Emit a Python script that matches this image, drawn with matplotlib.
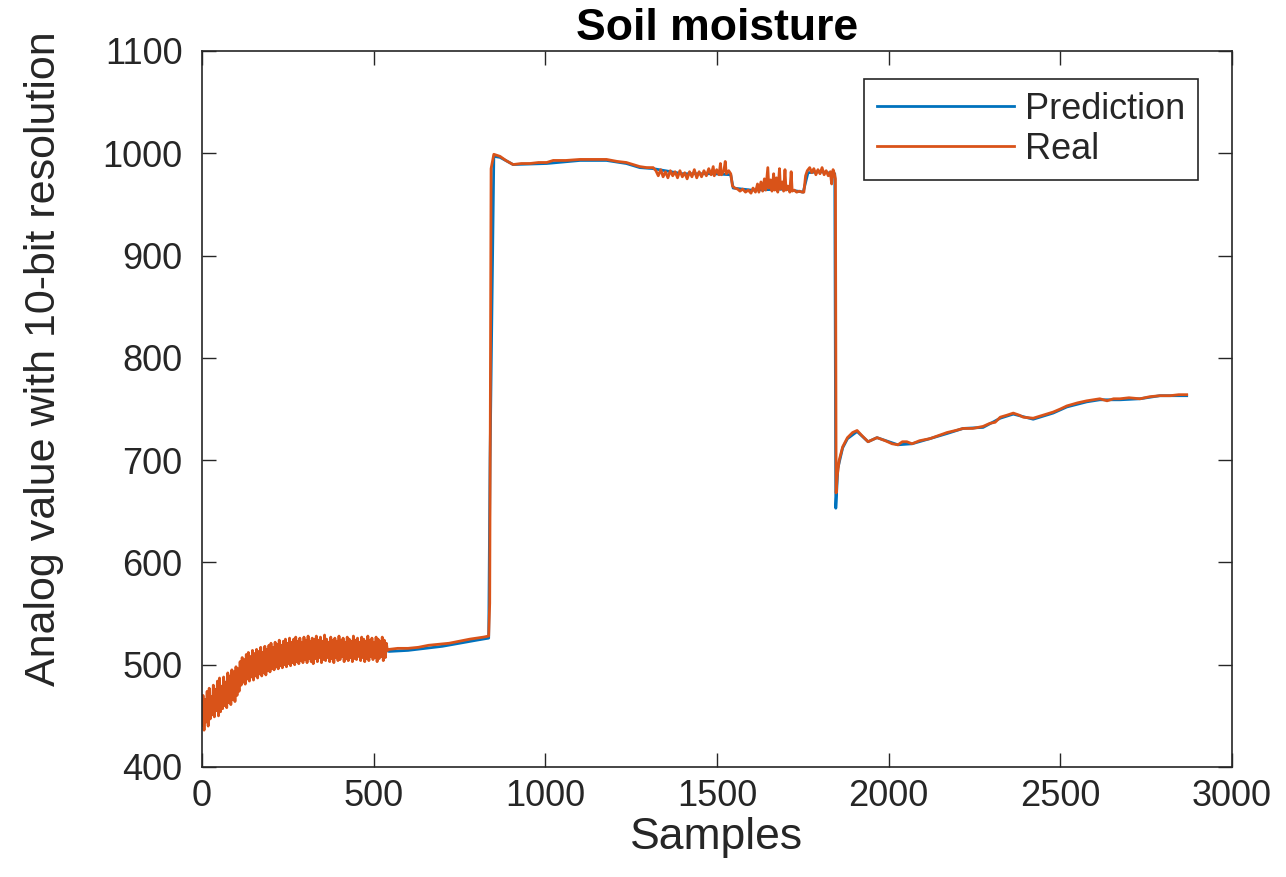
import numpy as np
import matplotlib
matplotlib.use('Agg')
import matplotlib.pyplot as plt

colors = {'prediction': '#0072BD', 'real': '#D95319', 'axis': '#262626'}

# ---- data (sample index, analog value) ----
# noisy start, one reading every 3 samples
band_x = np.arange(0, 540, 3)
band_y = [441, 470, 436, 466, 444, 474, 440, 477, 447, 469,
          451, 480, 449, 476, 455, 484, 450, 487, 454, 479,
          457, 488, 460, 483, 458, 492, 463, 489, 461, 495,
          466, 493, 464, 498, 470, 496, 474, 503, 480, 507,
          483, 505, 481, 510, 486, 512, 484, 508, 488, 514,
          485, 511, 489, 515, 487, 513, 491, 517, 489, 512,
          492, 518, 490, 515, 494, 519, 493, 521, 496, 517,
          495, 522, 498, 520, 496, 524, 499, 519, 497, 523,
          500, 525, 498, 521, 501, 526, 499, 522, 502, 525,
          500, 527, 503, 523, 501, 526, 504, 522, 502, 527,
          505, 524, 502, 528, 506, 523, 503, 526, 501, 525,
          506, 528, 503, 524, 507, 527, 502, 523, 505, 529,
          504, 525, 507, 522, 503, 527, 506, 524, 502, 526,
          507, 523, 504, 528, 505, 524, 508, 526, 503, 522,
          506, 527, 504, 525, 507, 523, 503, 528, 506, 524,
          505, 526, 508, 522, 504, 527, 507, 525, 503, 523,
          506, 528, 504, 524, 508, 526, 505, 522, 507, 527,
          503, 525, 506, 523, 508, 527, 504, 524, 507, 521]

rest_x = [540, 545, 570, 600, 630, 660, 690, 720, 750, 780, 800, 820, 835,
          838, 842, 850, 868, 885, 906, 930, 955, 980, 1004, 1023, 1060, 1101,
          1140, 1178, 1210, 1236, 1255, 1275, 1295, 1314,
          1322, 1329, 1336, 1343, 1350, 1357, 1364, 1371, 1378, 1385, 1392, 1399,
          1406, 1413, 1420, 1427, 1434, 1441, 1448, 1455, 1462, 1469, 1476, 1483,
          1489, 1492, 1499, 1506, 1510, 1513, 1520, 1524, 1527, 1534, 1540, 1545,
          1552, 1560, 1567, 1575, 1583, 1591, 1599, 1605, 1612, 1618, 1622, 1628,
          1633, 1638, 1642, 1648, 1651, 1656, 1660, 1665, 1668, 1673, 1677, 1682,
          1685, 1690, 1694, 1698, 1701, 1706, 1712, 1716, 1719, 1725, 1732, 1740,
          1748, 1753, 1758, 1763, 1770, 1776, 1782, 1788, 1794, 1800, 1806, 1812,
          1818, 1824, 1830, 1834, 1838, 1842, 1845,
          1847, 1850, 1856, 1866, 1880, 1895, 1908, 1922, 1940, 1966, 1990, 2010,
          2027, 2040, 2053, 2068, 2090, 2120, 2145, 2170, 2195, 2217, 2245, 2275,
          2295, 2310, 2325, 2345, 2363, 2380, 2392, 2421, 2450, 2479, 2500, 2519,
          2550, 2577, 2615, 2636, 2655, 2674, 2700, 2732, 2760, 2790, 2820, 2845,
          2868]
rest_y = [514, 515, 516, 516, 517, 519, 520, 521, 523, 525, 526, 527, 528,
          560, 985, 999, 997, 993, 989, 990, 990, 991, 991, 993, 993, 994,
          994, 994, 992, 991, 989, 987, 986, 986,
          983, 978, 984, 977, 982, 976, 983, 978, 982, 976, 983, 977,
          981, 975, 982, 977, 984, 976, 982, 977, 983, 978, 985, 979,
          987, 978, 984, 979, 990, 979, 983, 992, 980, 983, 980, 968,
          966, 965, 963, 965, 962, 964, 961, 966, 962, 970, 962, 972,
          963, 975, 964, 986, 966, 974, 963, 980, 964, 976, 962, 985,
          965, 972, 963, 984, 964, 968, 962, 982, 963, 964, 962, 963,
          962, 962, 978, 983, 986, 981, 985, 979, 984, 980, 986, 979,
          983, 978, 982, 970, 984, 980, 975,
          668, 684, 700, 713, 722, 727, 729, 724, 718, 722, 719, 716,
          715, 718, 718, 716, 719, 721, 724, 727, 729, 731, 731, 733,
          736, 737, 742, 744, 746, 744, 742, 741, 744, 747, 750, 753,
          756, 758, 760, 758, 760, 760, 761, 760, 762, 763, 763, 764,
          764]

pred_x = [0, 20, 50, 80, 110, 150, 200, 250, 300, 350, 400, 450, 500, 535,
          545, 600, 700, 800, 835, 839, 850, 868, 906, 1004, 1101, 1178, 1236,
          1275, 1314, 1400, 1489, 1540, 1547, 1600, 1700, 1751, 1765, 1800,
          1843, 1846, 1852, 1866, 1880, 1908, 1940, 1966, 2027, 2068, 2120,
          2170, 2217, 2275, 2325, 2363, 2421, 2479, 2519, 2577, 2615, 2674,
          2732, 2790, 2868]
pred_y = [452, 462, 468, 474, 490, 498, 506, 510, 513, 514, 514, 515, 515, 514,
          513, 514, 518, 524, 526, 700, 997, 996, 989, 990, 993, 993, 990,
          986, 985, 980, 980, 979, 966, 964, 965, 962, 981, 982,
          980, 653, 692, 712, 721, 728, 718, 722, 715, 716, 721,
          726, 731, 732, 741, 745, 740, 746, 752, 757, 759, 759,
          760, 763, 763]

real_x = np.concatenate([band_x, rest_x])
real_y = np.concatenate([band_y, rest_y])

yticks = [400, 500, 600, 700, 800, 900, 1000, 1100]
xticks = [0, 500, 1000, 1500, 2000, 2500, 3000]

plt.rcParams['font.family'] = ['Liberation Sans', 'DejaVu Sans']

fig = plt.figure(figsize=(12.86, 8.77), dpi=100)
ax = fig.add_axes([202 / 1286, 110 / 877, 1030 / 1286, 716 / 877])

ax.plot(pred_x, pred_y, color=colors['prediction'], lw=2.0, label='Prediction')
ax.plot(real_x, real_y, color=colors['real'], lw=2.0, label='Real')

ax.set_xlim(0, 3000)
ax.set_ylim(400, 1100)
ax.set_xticks(xticks)
ax.set_yticks(yticks)

for s in ax.spines.values():
    s.set_color(colors['axis'])
    s.set_linewidth(1.2)

ax.tick_params(which='both', direction='in', top=True, right=True, length=10,
               width=1, color=colors['axis'], labelcolor=colors['axis'],
               labelsize=26)
ax.tick_params(axis='x', pad=9)
ax.tick_params(axis='y', pad=14)

ax.set_title('Soil moisture', fontsize=32, fontweight='bold', pad=8, color='k')
ax.set_xlabel('Samples', fontsize=32, color=colors['axis'], labelpad=2)
ax.set_ylabel('Analog value with 10-bit resolution', fontsize=31,
              color=colors['axis'])
ax.yaxis.set_label_coords(-0.134, 0.57)

leg = ax.legend(loc='upper right', bbox_to_anchor=(0.967, 0.961),
                borderaxespad=0, fontsize=26, handlelength=3.8,
                handletextpad=0.3, fancybox=False, framealpha=1,
                edgecolor=colors['axis'], labelspacing=0.15, borderpad=0.35)
leg.get_frame().set_linewidth(1.2)
for t in leg.get_texts():
    t.set_color(colors['axis'])

fig.savefig('out.png', dpi=100)
